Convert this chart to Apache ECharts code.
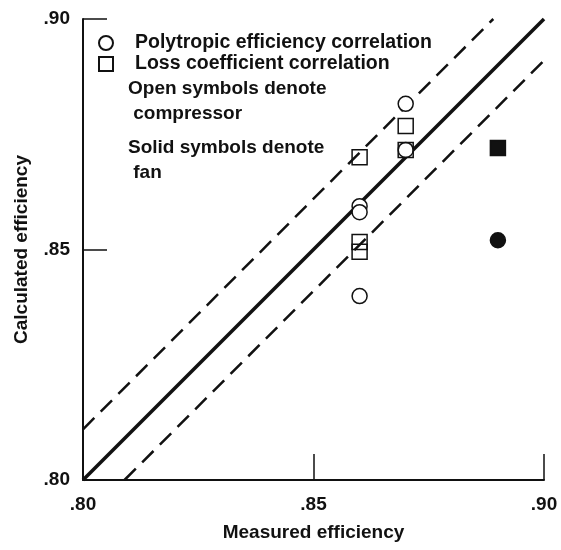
<!DOCTYPE html>
<html>
<head>
<meta charset="utf-8">
<script src="https://cdn.jsdelivr.net/npm/echarts@6/dist/echarts.min.js"></script>
<style>
  html, body { margin: 0; padding: 0; background: #fff; }
  #main { width: 561px; height: 550px; }
</style>
</head>
<body>
<div id="main"></div>
<script>
// measured vs calculated efficiency
var polyCompressor = [[0.87, 0.8816], [0.87, 0.8716], [0.86, 0.8594], [0.86, 0.8581], [0.86, 0.8399]];
var polyFan = [[0.89, 0.852]];
var lossCompressor = [[0.87, 0.8768], [0.87, 0.8716], [0.86, 0.870], [0.86, 0.8516], [0.86, 0.8495]];
var lossFan = [[0.89, 0.872]];

// reference lines
var perfectLine = [[0.80, 0.80], [0.90, 0.90]];
var upperBand = [[0.80, 0.811], [0.889, 0.90]];
var lowerBand = [[0.809, 0.80], [0.90, 0.891]];

var tickLabels = { 0.8: '.80', 0.85: '.85', 0.9: '.90' };
var legendNames = ['Polytropic efficiency correlation', 'Loss coefficient correlation'];
var noteLines = ['Open symbols denote', ' compressor', 'Solid symbols denote', ' fan'];

var FONT = '"Liberation Sans", Arial, Helvetica, sans-serif';
var INK = '#111';

function withFan(open, solid) {
    var out = open.slice();
    solid.forEach(function (p) {
        out.push({ value: p, itemStyle: { color: INK } });
    });
    return out;
}

function fmt(v) {
    var k = Math.round(v * 100) / 100;
    return tickLabels[k] || '';
}

var myChart = echarts.init(document.getElementById('main'));

var axisCommon = {
    type: 'value',
    min: 0.8,
    max: 0.9,
    interval: 0.05,
    splitLine: { show: false },
    axisLine: { show: true, lineStyle: { color: INK, width: 2 } },
    axisTick: { show: true, inside: true, lineStyle: { color: INK, width: 1.5 } },
    nameLocation: 'middle',
    nameTextStyle: { fontFamily: FONT, fontSize: 19, fontWeight: 'bold', color: INK }
};

option = {
    backgroundColor: '#fff',
    animation: false,
    grid: { left: 83, right: 17, top: 19, bottom: 70, outerBoundsMode: 'none', containLabel: false },
    xAxis: echarts.util.merge({
        name: 'Measured efficiency',
        nameGap: 43,
        axisTick: { length: 26 },
        axisLabel: { margin: 15, formatter: fmt, fontFamily: FONT, fontSize: 19, fontWeight: 'bold', color: INK }
    }, axisCommon),
    yAxis: echarts.util.merge({
        name: 'Calculated efficiency',
        nameGap: 52,
        axisTick: { length: 24 },
        axisLabel: { margin: 13, formatter: fmt, fontFamily: FONT, fontSize: 19, fontWeight: 'bold', color: INK }
    }, axisCommon),
    legend: {
        orient: 'vertical',
        left: 93,
        top: 28,
        itemWidth: 48,
        itemHeight: 14,
        itemGap: 1,
        symbolKeepAspect: true,
        data: [
            { name: legendNames[0], icon: 'circle' },
            { name: legendNames[1], icon: 'path://M0,0H10V10H0Z' }
        ],
        textStyle: { fontFamily: FONT, fontSize: 19.5, fontWeight: 'bold', color: INK, lineHeight: 19 }
    },
    graphic: [{
        type: 'text',
        left: 128,
        top: 76,
        style: {
            text: noteLines[0] + '\n' + noteLines[1],
            font: 'bold 19px ' + FONT,
            lineHeight: 25,
            fill: INK
        }
    }, {
        type: 'text',
        left: 128,
        top: 135,
        style: {
            text: noteLines[2] + '\n' + noteLines[3],
            font: 'bold 19px ' + FONT,
            lineHeight: 25,
            fill: INK
        }
    }],
    series: [{
        type: 'line',
        data: perfectLine,
        symbol: 'none',
        clip: false,
        silent: true,
        lineStyle: { color: INK, width: 3.5 }
    }, {
        type: 'line',
        data: upperBand,
        symbol: 'none',
        clip: false,
        silent: true,
        lineStyle: { color: INK, width: 2.5, type: [16, 9] }
    }, {
        type: 'line',
        data: lowerBand,
        symbol: 'none',
        clip: false,
        silent: true,
        lineStyle: { color: INK, width: 2.5, type: [16, 9] }
    }, {
        name: legendNames[0],
        type: 'scatter',
        symbol: 'circle',
        symbolSize: 15,
        data: withFan(polyCompressor, polyFan),
        itemStyle: { color: '#fff', borderColor: INK, borderWidth: 1.5, opacity: 1 },
        z: 3
    }, {
        name: legendNames[1],
        type: 'scatter',
        symbol: 'rect',
        symbolSize: 15,
        data: withFan(lossCompressor, lossFan),
        itemStyle: { color: 'rgba(255,255,255,0)', borderColor: INK, borderWidth: 1.5, opacity: 1 },
        z: 4
    }]
};

myChart.setOption(option);
</script>
</body>
</html>
